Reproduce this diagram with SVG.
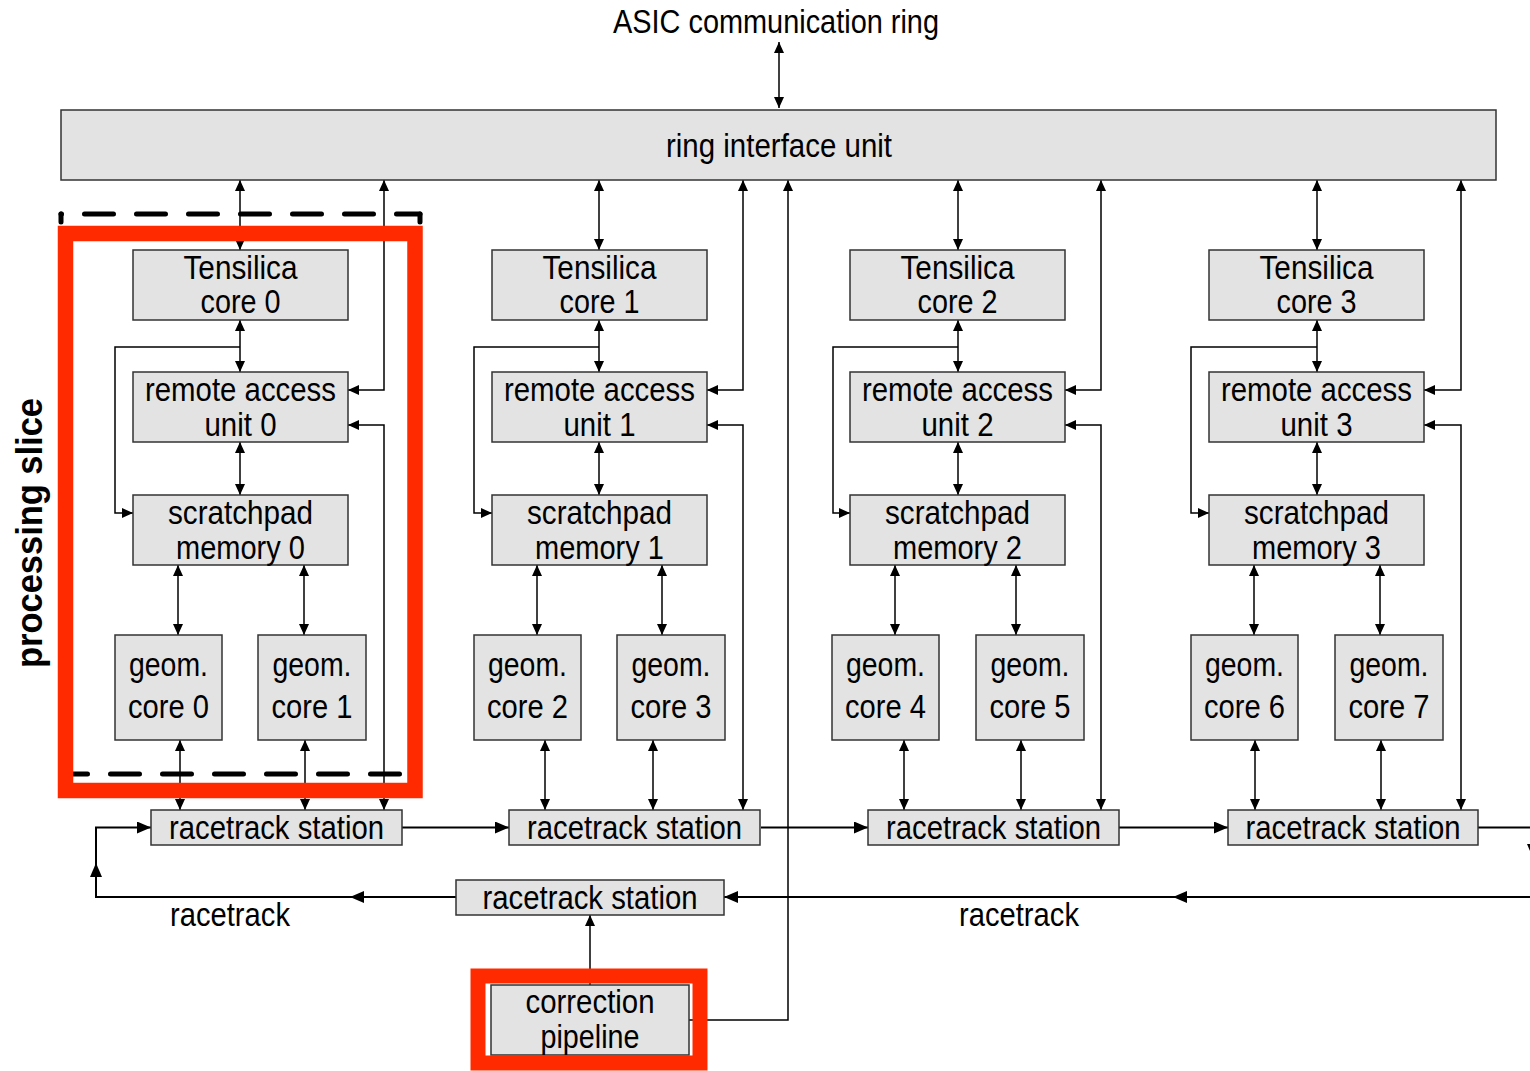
<svg xmlns="http://www.w3.org/2000/svg" width="1530" height="1071" viewBox="0 0 1530 1071">
<style>
.box{fill:#e3e3e3;stroke:#333;stroke-width:1.5}
.t{font-family:"Liberation Sans",Arial,sans-serif;font-size:33px;fill:#000;text-anchor:middle}
.c{fill:none;stroke:#000;stroke-width:1.5}
.rt{fill:none;stroke:#000;stroke-width:2}
.red{fill:none;stroke:#ff2a00}
.dash{fill:none;stroke:#000;stroke-width:5;stroke-linecap:round;stroke-dasharray:29 23}
</style>
<defs>
<marker id="a" markerUnits="userSpaceOnUse" markerWidth="12" markerHeight="11" refX="11" refY="5" orient="auto-start-reverse" viewBox="0 0 12 11">
<path d="M0,0 L11,5 L0,10 z" fill="#000"/>
</marker>
<marker id="b" markerUnits="userSpaceOnUse" markerWidth="15" markerHeight="13" refX="14" refY="6" orient="auto-start-reverse" viewBox="0 0 15 13">
<path d="M0,0 L14,6 L0,12 z" fill="#000"/>
</marker>
</defs>
<rect width="1530" height="1071" fill="#fff"/>

<g id="connectors">
<path class="c" d="M779,42 V108" marker-start="url(#a)" marker-end="url(#a)"/>
<!-- slice 0 -->
<path class="c" d="M240,180 V250" marker-start="url(#a)" marker-end="url(#a)"/>
<path class="c" d="M240,320 V372" marker-start="url(#a)" marker-end="url(#a)"/>
<path class="c" d="M240,347 H115 V513 H133" marker-end="url(#a)"/>
<path class="c" d="M240,442 V495" marker-start="url(#a)" marker-end="url(#a)"/>
<path class="c" d="M384,180 V390 H348" marker-start="url(#a)" marker-end="url(#a)"/>
<path class="c" d="M348,425 H384 V810" marker-start="url(#a)" marker-end="url(#a)"/>
<path class="c" d="M178,565 V635" marker-start="url(#a)" marker-end="url(#a)"/>
<path class="c" d="M304,565 V635" marker-start="url(#a)" marker-end="url(#a)"/>
<path class="c" d="M180,740 V810" marker-start="url(#a)" marker-end="url(#a)"/>
<path class="c" d="M305,740 V810" marker-start="url(#a)" marker-end="url(#a)"/>
<!-- slice 1 -->
<path class="c" d="M599,180 V250" marker-start="url(#a)" marker-end="url(#a)"/>
<path class="c" d="M599,320 V372" marker-start="url(#a)" marker-end="url(#a)"/>
<path class="c" d="M599,347 H474 V513 H492" marker-end="url(#a)"/>
<path class="c" d="M599,442 V495" marker-start="url(#a)" marker-end="url(#a)"/>
<path class="c" d="M743,180 V390 H707" marker-start="url(#a)" marker-end="url(#a)"/>
<path class="c" d="M707,425 H743 V810" marker-start="url(#a)" marker-end="url(#a)"/>
<path class="c" d="M537,565 V635" marker-start="url(#a)" marker-end="url(#a)"/>
<path class="c" d="M662,565 V635" marker-start="url(#a)" marker-end="url(#a)"/>
<path class="c" d="M545,740 V810" marker-start="url(#a)" marker-end="url(#a)"/>
<path class="c" d="M653,740 V810" marker-start="url(#a)" marker-end="url(#a)"/>
<!-- slice 2 -->
<path class="c" d="M958,180 V250" marker-start="url(#a)" marker-end="url(#a)"/>
<path class="c" d="M958,320 V372" marker-start="url(#a)" marker-end="url(#a)"/>
<path class="c" d="M958,347 H833 V513 H850" marker-end="url(#a)"/>
<path class="c" d="M958,442 V495" marker-start="url(#a)" marker-end="url(#a)"/>
<path class="c" d="M1101,180 V390 H1065" marker-start="url(#a)" marker-end="url(#a)"/>
<path class="c" d="M1065,425 H1101 V810" marker-start="url(#a)" marker-end="url(#a)"/>
<path class="c" d="M895,565 V635" marker-start="url(#a)" marker-end="url(#a)"/>
<path class="c" d="M1016,565 V635" marker-start="url(#a)" marker-end="url(#a)"/>
<path class="c" d="M904,740 V810" marker-start="url(#a)" marker-end="url(#a)"/>
<path class="c" d="M1021,740 V810" marker-start="url(#a)" marker-end="url(#a)"/>
<!-- slice 3 -->
<path class="c" d="M1317,180 V250" marker-start="url(#a)" marker-end="url(#a)"/>
<path class="c" d="M1317,320 V372" marker-start="url(#a)" marker-end="url(#a)"/>
<path class="c" d="M1317,347 H1191 V513 H1209" marker-end="url(#a)"/>
<path class="c" d="M1317,442 V495" marker-start="url(#a)" marker-end="url(#a)"/>
<path class="c" d="M1461,180 V390 H1424" marker-start="url(#a)" marker-end="url(#a)"/>
<path class="c" d="M1424,425 H1461 V810" marker-start="url(#a)" marker-end="url(#a)"/>
<path class="c" d="M1254,565 V635" marker-start="url(#a)" marker-end="url(#a)"/>
<path class="c" d="M1380,565 V635" marker-start="url(#a)" marker-end="url(#a)"/>
<path class="c" d="M1255,740 V810" marker-start="url(#a)" marker-end="url(#a)"/>
<path class="c" d="M1381,740 V810" marker-start="url(#a)" marker-end="url(#a)"/>
<!-- correction pipeline -->
<path class="c" d="M689,1020 H788 V180" marker-end="url(#a)"/>
<path class="c" d="M590,985 V915" marker-end="url(#a)"/>
<!-- racetrack -->
<path class="rt" d="M402,827.5 H509" marker-end="url(#b)"/>
<path class="rt" d="M761,827.5 H868" marker-end="url(#b)"/>
<path class="rt" d="M1119,827.5 H1228" marker-end="url(#b)"/>
<path class="rt" d="M1478,827.5 H1533 V858" marker-end="url(#b)"/>
<path class="rt" d="M1533,858 V897 H1173" marker-end="url(#b)"/>
<path class="rt" d="M1173,897 H724" marker-end="url(#b)"/>
<path class="rt" d="M456,897 H350" marker-end="url(#b)"/>
<path class="rt" d="M350,897 H96 V863" marker-end="url(#b)"/>
<path class="rt" d="M96,863 V827.5 H151" marker-end="url(#b)"/>
</g>

<text class="t" x="776" y="33" textLength="326" lengthAdjust="spacingAndGlyphs">ASIC communication ring</text>

<g id="riu"><rect class="box" x="61" y="110" width="1435" height="70"/><text class="t" x="779" y="157" textLength="226" lengthAdjust="spacingAndGlyphs">ring interface unit</text></g>

<g id="tensilica0"><rect class="box" x="133" y="250" width="215" height="70"/><text class="t" x="240.5" y="279" textLength="114" lengthAdjust="spacingAndGlyphs">Tensilica</text><text class="t" x="240.5" y="313" textLength="80" lengthAdjust="spacingAndGlyphs">core 0</text></g>
<g id="rau0"><rect class="box" x="133" y="372" width="215" height="70"/><text class="t" x="240.5" y="401" textLength="191" lengthAdjust="spacingAndGlyphs">remote access</text><text class="t" x="240.5" y="436" textLength="72" lengthAdjust="spacingAndGlyphs">unit 0</text></g>
<g id="spm0"><rect class="box" x="133" y="495" width="215" height="70"/><text class="t" x="240.5" y="524" textLength="145" lengthAdjust="spacingAndGlyphs">scratchpad</text><text class="t" x="240.5" y="559" textLength="129" lengthAdjust="spacingAndGlyphs">memory 0</text></g>
<g id="geom0"><rect class="box" x="115" y="635" width="107" height="105"/><text class="t" x="168.5" y="676" textLength="79" lengthAdjust="spacingAndGlyphs">geom.</text><text class="t" x="168.5" y="718" textLength="81" lengthAdjust="spacingAndGlyphs">core 0</text></g>
<g id="geom1"><rect class="box" x="258" y="635" width="108" height="105"/><text class="t" x="312" y="676" textLength="79" lengthAdjust="spacingAndGlyphs">geom.</text><text class="t" x="312" y="718" textLength="81" lengthAdjust="spacingAndGlyphs">core 1</text></g>
<g id="rs0"><rect class="box" x="151" y="810" width="251" height="35"/><text class="t" x="276.5" y="839" textLength="215" lengthAdjust="spacingAndGlyphs">racetrack station</text></g>

<g id="tensilica1"><rect class="box" x="492" y="250" width="215" height="70"/><text class="t" x="599.5" y="279" textLength="114" lengthAdjust="spacingAndGlyphs">Tensilica</text><text class="t" x="599.5" y="313" textLength="80" lengthAdjust="spacingAndGlyphs">core 1</text></g>
<g id="rau1"><rect class="box" x="492" y="372" width="215" height="70"/><text class="t" x="599.5" y="401" textLength="191" lengthAdjust="spacingAndGlyphs">remote access</text><text class="t" x="599.5" y="436" textLength="72" lengthAdjust="spacingAndGlyphs">unit 1</text></g>
<g id="spm1"><rect class="box" x="492" y="495" width="215" height="70"/><text class="t" x="599.5" y="524" textLength="145" lengthAdjust="spacingAndGlyphs">scratchpad</text><text class="t" x="599.5" y="559" textLength="129" lengthAdjust="spacingAndGlyphs">memory 1</text></g>
<g id="geom2"><rect class="box" x="474" y="635" width="107" height="105"/><text class="t" x="527.5" y="676" textLength="79" lengthAdjust="spacingAndGlyphs">geom.</text><text class="t" x="527.5" y="718" textLength="81" lengthAdjust="spacingAndGlyphs">core 2</text></g>
<g id="geom3"><rect class="box" x="617" y="635" width="108" height="105"/><text class="t" x="671" y="676" textLength="79" lengthAdjust="spacingAndGlyphs">geom.</text><text class="t" x="671" y="718" textLength="81" lengthAdjust="spacingAndGlyphs">core 3</text></g>
<g id="rs1"><rect class="box" x="509" y="810" width="251" height="35"/><text class="t" x="634.5" y="839" textLength="215" lengthAdjust="spacingAndGlyphs">racetrack station</text></g>

<g id="tensilica2"><rect class="box" x="850" y="250" width="215" height="70"/><text class="t" x="957.5" y="279" textLength="114" lengthAdjust="spacingAndGlyphs">Tensilica</text><text class="t" x="957.5" y="313" textLength="80" lengthAdjust="spacingAndGlyphs">core 2</text></g>
<g id="rau2"><rect class="box" x="850" y="372" width="215" height="70"/><text class="t" x="957.5" y="401" textLength="191" lengthAdjust="spacingAndGlyphs">remote access</text><text class="t" x="957.5" y="436" textLength="72" lengthAdjust="spacingAndGlyphs">unit 2</text></g>
<g id="spm2"><rect class="box" x="850" y="495" width="215" height="70"/><text class="t" x="957.5" y="524" textLength="145" lengthAdjust="spacingAndGlyphs">scratchpad</text><text class="t" x="957.5" y="559" textLength="129" lengthAdjust="spacingAndGlyphs">memory 2</text></g>
<g id="geom4"><rect class="box" x="832" y="635" width="107" height="105"/><text class="t" x="885.5" y="676" textLength="79" lengthAdjust="spacingAndGlyphs">geom.</text><text class="t" x="885.5" y="718" textLength="81" lengthAdjust="spacingAndGlyphs">core 4</text></g>
<g id="geom5"><rect class="box" x="976" y="635" width="108" height="105"/><text class="t" x="1030" y="676" textLength="79" lengthAdjust="spacingAndGlyphs">geom.</text><text class="t" x="1030" y="718" textLength="81" lengthAdjust="spacingAndGlyphs">core 5</text></g>
<g id="rs2"><rect class="box" x="868" y="810" width="251" height="35"/><text class="t" x="993.5" y="839" textLength="215" lengthAdjust="spacingAndGlyphs">racetrack station</text></g>

<g id="tensilica3"><rect class="box" x="1209" y="250" width="215" height="70"/><text class="t" x="1316.5" y="279" textLength="114" lengthAdjust="spacingAndGlyphs">Tensilica</text><text class="t" x="1316.5" y="313" textLength="80" lengthAdjust="spacingAndGlyphs">core 3</text></g>
<g id="rau3"><rect class="box" x="1209" y="372" width="215" height="70"/><text class="t" x="1316.5" y="401" textLength="191" lengthAdjust="spacingAndGlyphs">remote access</text><text class="t" x="1316.5" y="436" textLength="72" lengthAdjust="spacingAndGlyphs">unit 3</text></g>
<g id="spm3"><rect class="box" x="1209" y="495" width="215" height="70"/><text class="t" x="1316.5" y="524" textLength="145" lengthAdjust="spacingAndGlyphs">scratchpad</text><text class="t" x="1316.5" y="559" textLength="129" lengthAdjust="spacingAndGlyphs">memory 3</text></g>
<g id="geom6"><rect class="box" x="1191" y="635" width="107" height="105"/><text class="t" x="1244.5" y="676" textLength="79" lengthAdjust="spacingAndGlyphs">geom.</text><text class="t" x="1244.5" y="718" textLength="81" lengthAdjust="spacingAndGlyphs">core 6</text></g>
<g id="geom7"><rect class="box" x="1335" y="635" width="108" height="105"/><text class="t" x="1389" y="676" textLength="79" lengthAdjust="spacingAndGlyphs">geom.</text><text class="t" x="1389" y="718" textLength="81" lengthAdjust="spacingAndGlyphs">core 7</text></g>
<g id="rs3"><rect class="box" x="1228" y="810" width="250" height="35"/><text class="t" x="1353" y="839" textLength="215" lengthAdjust="spacingAndGlyphs">racetrack station</text></g>

<g id="rs-bottom"><rect class="box" x="456" y="880" width="268" height="35"/><text class="t" x="590" y="909" textLength="215" lengthAdjust="spacingAndGlyphs">racetrack station</text></g>
<g id="correction"><rect class="box" x="491" y="985" width="198" height="70"/><text class="t" x="590" y="1013" textLength="129" lengthAdjust="spacingAndGlyphs">correction</text><text class="t" x="590" y="1048" textLength="99" lengthAdjust="spacingAndGlyphs">pipeline</text></g>

<text class="t" x="230" y="926" textLength="120" lengthAdjust="spacingAndGlyphs">racetrack</text>
<text class="t" x="1019" y="926" textLength="120" lengthAdjust="spacingAndGlyphs">racetrack</text>

<g id="slice-outline">
<path class="dash" d="M61,214 H420" stroke-dashoffset="28.5"/>
<path class="dash" d="M61,774 H420" stroke-dashoffset="2.5"/>
<path d="M61,214 V222 M420,214 V222" stroke="#000" stroke-width="5" stroke-linecap="round"/>
<rect class="red" x="65.5" y="233.5" width="349.5" height="557" stroke-width="15.5"/>
<text transform="translate(42,533) rotate(-90)" x="0" y="0" style="font-family:'Liberation Sans',Arial,sans-serif;font-size:36px;font-weight:bold;text-anchor:middle" textLength="270" lengthAdjust="spacingAndGlyphs">processing slice</text>
</g>
<rect class="red" x="478" y="976" width="222" height="87" stroke-width="15"/>
</svg>
